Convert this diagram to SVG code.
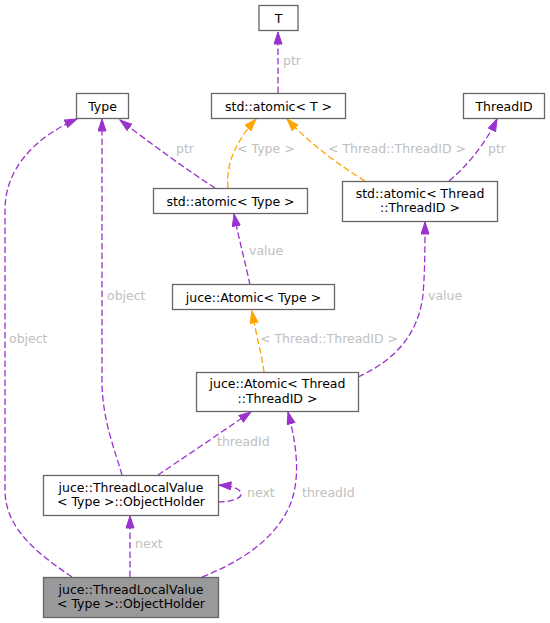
<svg xmlns="http://www.w3.org/2000/svg" width="550" height="623" viewBox="0 0 550 623">
<style>
.node rect{fill:#ffffff;stroke:#666666;stroke-width:1.3}
.node.cur rect{fill:#999999}
.node text{font-family:"DejaVu Sans",sans-serif;font-size:12.5px;fill:#000000;text-anchor:middle}
.e{fill:none;stroke-width:1.3;stroke-dasharray:6.5,3}
.p{stroke:#9a32cd}
.o{stroke:#ffa500}
.lbl{font-family:"DejaVu Sans",sans-serif;font-size:12.5px;fill:#c0c0c0}
</style>
<defs>
<marker id="ap" markerUnits="userSpaceOnUse" markerWidth="14" markerHeight="11" refX="12.5" refY="4.5" orient="auto"><path d="M0.5,0.5 L12.5,4.5 L0.5,8.5 z" fill="#9a32cd" stroke="#9a32cd"/></marker>
<marker id="ao" markerUnits="userSpaceOnUse" markerWidth="14" markerHeight="11" refX="12.5" refY="4.5" orient="auto"><path d="M0.5,0.5 L12.5,4.5 L0.5,8.5 z" fill="#ffa500" stroke="#ffa500"/></marker>
</defs>
<rect width="550" height="623" fill="#ffffff"/>
<g id="edges">
<path class="e p" d="M278,93 L278,32" marker-end="url(#ap)"/>
<text class="lbl" x="283" y="65">ptr</text>
<path class="e p" d="M215,188 C190,172 150,143 120,120" marker-end="url(#ap)"/>
<text class="lbl" x="176" y="153">ptr</text>
<path class="e o" d="M228,188 C226,168 232,146 256,119" marker-end="url(#ao)"/>
<text class="lbl" x="237" y="153">&lt; Type &gt;</text>
<path class="e o" d="M365,181 C340,166 308,142 287,119" marker-end="url(#ao)"/>
<text class="lbl" x="328" y="153">&lt; Thread::ThreadID &gt;</text>
<path class="e p" d="M449,181 C465,168 485,145 497,119" marker-end="url(#ap)"/>
<text class="lbl" x="488" y="153">ptr</text>
<path class="e p" d="M250,285 C246,265 239,240 234,214" marker-end="url(#ap)"/>
<text class="lbl" x="249" y="255">value</text>
<path class="e o" d="M264,372 C262,355 256,335 252,311" marker-end="url(#ao)"/>
<text class="lbl" x="260" y="343">&lt; Thread::ThreadID &gt;</text>
<path class="e p" d="M358,377 C395,360 418,335 423,295 C425,270 425,245 425,222" marker-end="url(#ap)"/>
<text class="lbl" x="428" y="300">value</text>
<path class="e p" d="M122,475 C115,450 102,420 102,380 L102,119" marker-end="url(#ap)"/>
<text class="lbl" x="107" y="300">object</text>
<path class="e p" d="M158,475 C185,457 220,433 251,412" marker-end="url(#ap)"/>
<text class="lbl" x="217" y="446">threadId</text>
<path class="e p" d="M218,502 C230,502 241,499 241,494 C241,489 233,486 219,485" marker-end="url(#ap)"/>
<text class="lbl" x="247" y="497">next</text>
<path class="e p" d="M130,577 L130,516" marker-end="url(#ap)"/>
<text class="lbl" x="135" y="548">next</text>
<path class="e p" d="M72,577 C40,555 5,530 5,490 L5,210 C5,165 40,135 77,119" marker-end="url(#ap)"/>
<text class="lbl" x="9" y="343">object</text>
<path class="e p" d="M202,577 C240,562 275,540 290,505 C300,480 298,450 288,412" marker-end="url(#ap)"/>
<text class="lbl" x="302" y="497">threadId</text>
</g>
<g id="n_T" class="node"><rect x="259" y="5.5" width="39" height="25"/><text x="278.5" y="22.5">T</text></g>
<g id="n_Type" class="node"><rect x="76.5" y="93.5" width="52" height="25"/><text x="102.5" y="110.5">Type</text></g>
<g id="n_atomicT" class="node"><rect x="211.5" y="93.5" width="134" height="25"/><text x="278.5" y="110.5">std::atomic&lt; T &gt;</text></g>
<g id="n_ThreadID" class="node"><rect x="463.5" y="93.5" width="81" height="25"/><text x="504" y="110.5">ThreadID</text></g>
<g id="n_atomicType" class="node"><rect x="153.5" y="188.5" width="154" height="25"/><text x="230.5" y="205.5">std::atomic&lt; Type &gt;</text></g>
<g id="n_atomicThreadID" class="node"><rect x="342.5" y="181.5" width="155" height="40"/><text x="420" y="197.5">std::atomic&lt; Thread</text><text x="420" y="212">::ThreadID &gt;</text></g>
<g id="n_juceAtomicType" class="node"><rect x="172.5" y="284.5" width="162" height="25"/><text x="253.5" y="301.5">juce::Atomic&lt; Type &gt;</text></g>
<g id="n_juceAtomicThreadID" class="node"><rect x="196.5" y="372.5" width="162" height="39"/><text x="277.5" y="388">juce::Atomic&lt; Thread</text><text x="277.5" y="402.5">::ThreadID &gt;</text></g>
<g id="n_ObjectHolder" class="node"><rect x="43.5" y="475.5" width="175" height="40"/><text x="131" y="491.5">juce::ThreadLocalValue</text><text x="131" y="506">&lt; Type &gt;::ObjectHolder</text></g>
<g id="n_ObjectHolderCur" class="node cur"><rect x="43.5" y="577.5" width="175" height="40"/><text x="131" y="593.5">juce::ThreadLocalValue</text><text x="131" y="608">&lt; Type &gt;::ObjectHolder</text></g>
</svg>
